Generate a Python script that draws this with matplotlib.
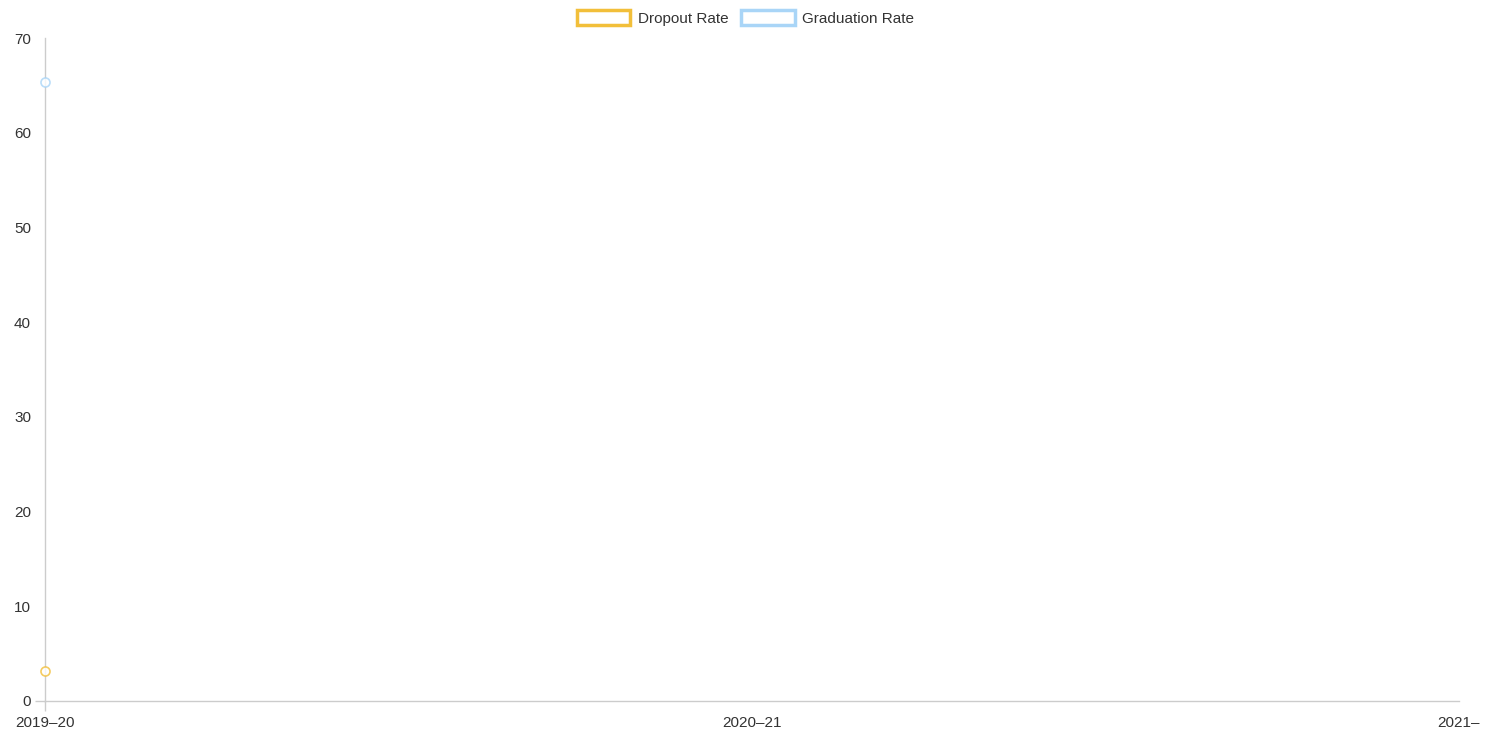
import numpy as np
import matplotlib.pyplot as plt
from matplotlib.patches import Patch

plt.rcParams['font.family'] = ['Liberation Sans', 'DejaVu Sans']

years = ['2019\u201320', '2020\u201321', '2021\u2013']
dropout = [3.2, np.nan, np.nan]
graduation = [65.4, np.nan, np.nan]

drop_color = '#f2bf3a'
grad_color = '#a9d5f7'

fig = plt.figure(figsize=(14.91, 7.34), dpi=100)
ax = fig.add_axes([45 / 1491, 33 / 734, 1414 / 1491, 663 / 734])

x = np.arange(len(years))
ax.plot(x, dropout, color=drop_color, marker='o', markersize=6.5, markerfacecolor='white',
        markeredgewidth=1.2, alpha=0.8, clip_on=False, zorder=3)
ax.plot(x, graduation, color=grad_color, marker='o', markersize=6.5, markerfacecolor='white',
        markeredgewidth=1.2, alpha=0.8, clip_on=False, zorder=3)

ax.set_xlim(0, len(years) - 1)
ax.set_ylim(0, 70)
ax.set_xticks(x)
ax.set_xticklabels(years)
ax.set_yticks(range(0, 71, 10))

for side in ['top', 'right']:
    ax.spines[side].set_visible(False)
for side in ['left', 'bottom']:
    ax.spines[side].set_color('#cccccc')
    ax.spines[side].set_linewidth(1)
ax.tick_params(axis='both', colors='#cccccc', labelcolor='#333333', labelsize=11, length=0, width=1)
ax.tick_params(axis='y', pad=10)
ax.tick_params(axis='x', pad=11)
# only the ticks at the origin are visible in the reference
ax.xaxis.get_major_ticks()[0].tick1line.set_markersize(7)
ax.yaxis.get_major_ticks()[0].tick1line.set_markersize(7)
ax.get_xticklabels()[-1].set_x(1.99)

handles = [Patch(facecolor='white', edgecolor=drop_color, linewidth=2.5, label='Dropout Rate'),
           Patch(facecolor='white', edgecolor=grad_color, linewidth=2.5, label='Graduation Rate')]
fig.legend(handles=handles, loc='center', bbox_to_anchor=(0.5, 1 - 18 / 734), ncol=2, frameon=False,
           fontsize=11, handlelength=3.5, handleheight=1.1, columnspacing=0.85, handletextpad=0.5,
           labelcolor='#333333')

fig.savefig('out.png', dpi=100)
